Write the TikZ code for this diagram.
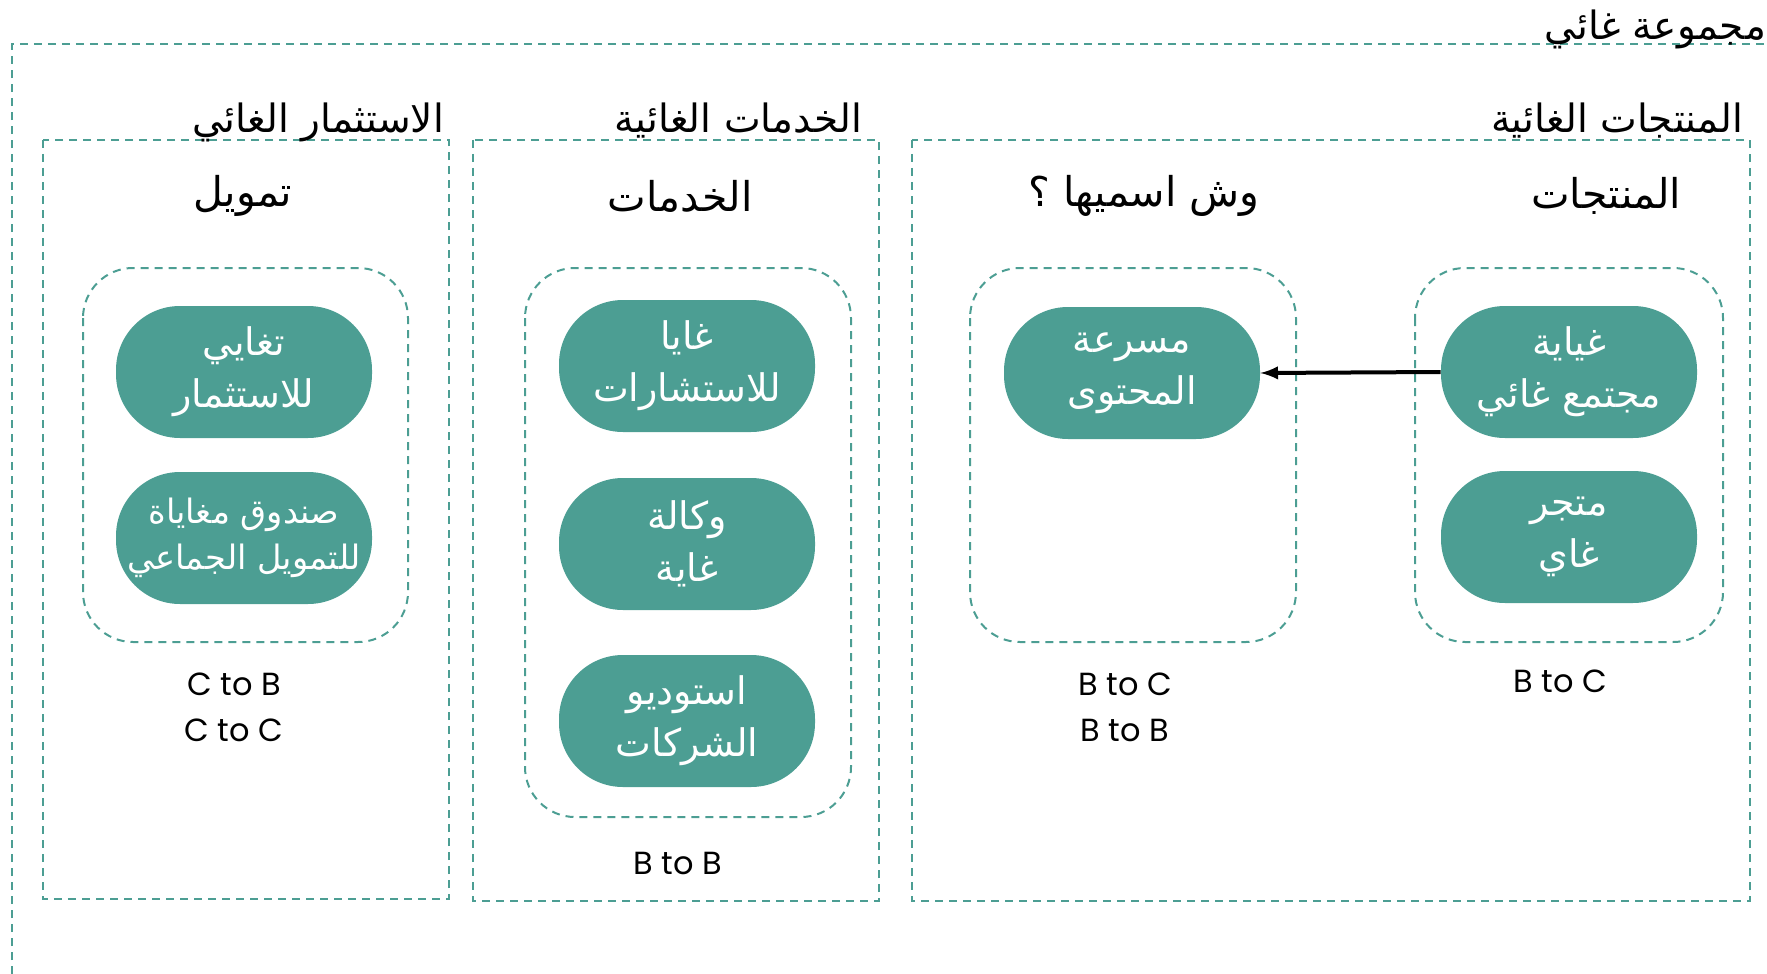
\documentclass[tikz,border=0pt]{standalone}
\usepackage{fontspec}
\setmainfont{Poppins}
\newfontfamily\arabicfont[Script=Arabic]{DejaVu Sans}
\TeXXeTstate=1
\usetikzlibrary{positioning}
\usetikzlibrary{arrows}
\definecolor{ghayagreen}{HTML}{4C9E93}
\newcommand{\ar}[1]{{\arabicfont\beginR #1\endR}}
\tikzset {
  % dashed outlines
  frame/.style={draw=ghayagreen, line width=1pt, dash pattern=on 4pt off 3pt},
  % rounded dashed groups
  group/.style={frame, rounded corners=25pt},
  % filled entities
  pill/.style={fill=ghayagreen, text=white, rounded corners=32pt, minimum width=128pt,
    minimum height=66pt, align=center, inner sep=0pt,
    font=\fontsize{19}{26}\selectfont},
  % section titles
  title/.style={anchor=base east, font=\fontsize{19.5}{23}\selectfont},
  head/.style={font=\fontsize{20.5}{24}\selectfont},
  % business type labels
  kind/.style={align=center, font=\fontsize{16}{23}\selectfont},
}

\begin{document}
\begin{tikzpicture}[x=0.5pt, y=-0.5pt]
      \clip (0,0) rectangle (1767,974);

      % outer group
      \draw[frame] (12,1100) -- (12,44) -- (1900,44);
      \node[title] (grp) at (1773,40) {\ar{مجموعة غائي}};

      % sections
      \draw[frame] (43,140) rectangle (449,899);
      \draw[frame] (473,140) rectangle (879,901);
      \draw[frame] (912,140) rectangle (1750,901);
      \node[title] (tinv) at (451,133) {\ar{الاستثمار الغائي}};
      \node[title] (tsrv) at (869,133) {\ar{الخدمات الغائية}};
      \node[title] (tprd) at (1750,133) {\ar{المنتجات الغائية}};

      \node[head] (hinv) at (243,196) {\ar{تمويل}};
      \node[head] (hsrv) at (680,196) {\ar{الخدمات}};
      \node[head] (hnew) at (1144,196) {\ar{وش اسميها ؟}};
      \node[head] (hprd) at (1606,196) {\ar{المنتجات}};

      \draw[group] (83,268) rectangle (408,642);
      \draw[group] (525,268) rectangle (851,817);
      \draw[group] (970,268) rectangle (1296,642);
      \draw[group] (1415,268) rectangle (1723,642);

      % investment
      \node[pill] (taghayi) at (244,372) {\ar{تغايي}\\\ar{للاستثمار}};
      \node[pill, font=\fontsize{16.8}{23}\selectfont] (sundoq) at (244,538)
        {\ar{صندوق مغاياة}\\\ar{للتمويل الجماعي}};

      % services
      \node[pill] (ghaya) at (687,366) {\ar{غايا}\\\ar{للاستشارات}};
      \node[pill] (wakala) at (687,544) {\ar{وكالة}\\\ar{غاية}};
      \node[pill] (studio) at (687,721) {\ar{استوديو}\\\ar{الشركات}};

      % products
      \node[pill] (masraa) at (1132,373) {\ar{مسرعة}\\\ar{المحتوى}};
      \node[pill] (ghayah) at (1569,372) {\ar{غياية}\\\ar{مجتمع غائي}};
      \node[pill] (matjar) at (1569,537) {\ar{متجر}\\\ar{غاي}};

      \draw[-latex, line width=2pt] (ghayah.west) -- (masraa.east);

      \node[kind] (kinv) at (234,707) {C to B\\C to C};
      \node[kind] (ksrv) at (678,863) {B to B};
      \node[kind] (knew) at (1125,707) {B to C\\B to B};
      \node[kind] (kprd) at (1560,681) {B to C};
\end{tikzpicture}
\end{document}
